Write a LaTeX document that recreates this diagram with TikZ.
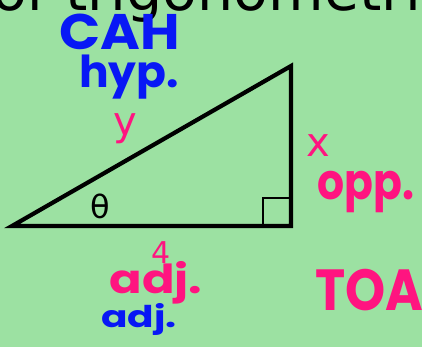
\documentclass[tikz,border=0pt]{standalone}
\usepackage{fontspec}
\usepackage{graphicx}
\setmainfont{DejaVu Sans}
\newfontfamily\handfont{Poppins}
\definecolor{bggreen}{RGB}{156,225,162}
\definecolor{hpink}{RGB}{255,20,128}
\definecolor{hblue}{RGB}{8,24,245}
\tikzset{
  hand/.style={inner sep=0pt, outer sep=0pt, font=\handfont\bfseries},
  lbl/.style={inner sep=0pt, outer sep=0pt},
  tri/.style={line width=4.2pt, line join=miter},
}
\begin{document}
\begin{tikzpicture}[x=1pt,y=-1pt]
\useasboundingbox (0,0) rectangle (422,347);
\clip (0,0) rectangle (422,347);
\fill[bggreen] (0,0) rectangle (422,347);
% title (cut)
\node[lbl, anchor=base west, font=\fontsize{57}{60}\selectfont] (title) at (-8,10.5) {of trigonometri};
% triangle
\coordinate (A) at (12,226);
\coordinate (B) at (291,226);
\coordinate (C) at (291,66);
\draw[tri] (A) -- (B) -- (C) -- cycle;
\draw[line width=2.8pt] (263,226) -- (263,198) -- (291,198);
% printed labels
\node[lbl, text=hpink, font=\fontsize{40}{40}\selectfont] (ly) at (125,129) {y};
\node[lbl, text=hpink, font=\fontsize{40}{40}\selectfont] (lx) at (318,146) {x};
\node[lbl, font=\fontsize{32}{32}\selectfont] (lt) at (100,206) {θ};
\node[lbl, text=hpink, font=\fontsize{30}{30}\selectfont] (l4) at (161,253) {4};
% handwriting
\node[hand, text=hblue, anchor=base, font=\handfont\bfseries\fontsize{50}{50}\selectfont] (cah) at (120,50) {\scalebox{1.08}[1]{CAH}};
\node[hand, text=hblue, anchor=base, font=\handfont\bfseries\fontsize{44}{44}\selectfont] (hyp) at (129,88) {hyp.};
\node[hand, text=hpink, anchor=base, font=\handfont\bfseries\fontsize{50}{50}\selectfont] (opp) at (366,200) {\scalebox{0.85}[1]{opp.}};
\node[hand, text=hpink, anchor=base, font=\handfont\bfseries\fontsize{40}{40}\selectfont] (adjp) at (156,293) {\scalebox{1.2}[1]{adj.}};
\node[hand, text=hblue, anchor=base, font=\handfont\bfseries\fontsize{30}{30}\selectfont] (adjb) at (139,327) {\scalebox{1.3}[1]{adj.}};
\node[hand, text=hpink, anchor=base west, font=\handfont\bfseries\fontsize{58}{58}\selectfont] (toa) at (315,310) {\scalebox{0.88}[1]{TOA}};
\end{tikzpicture}
\end{document}
